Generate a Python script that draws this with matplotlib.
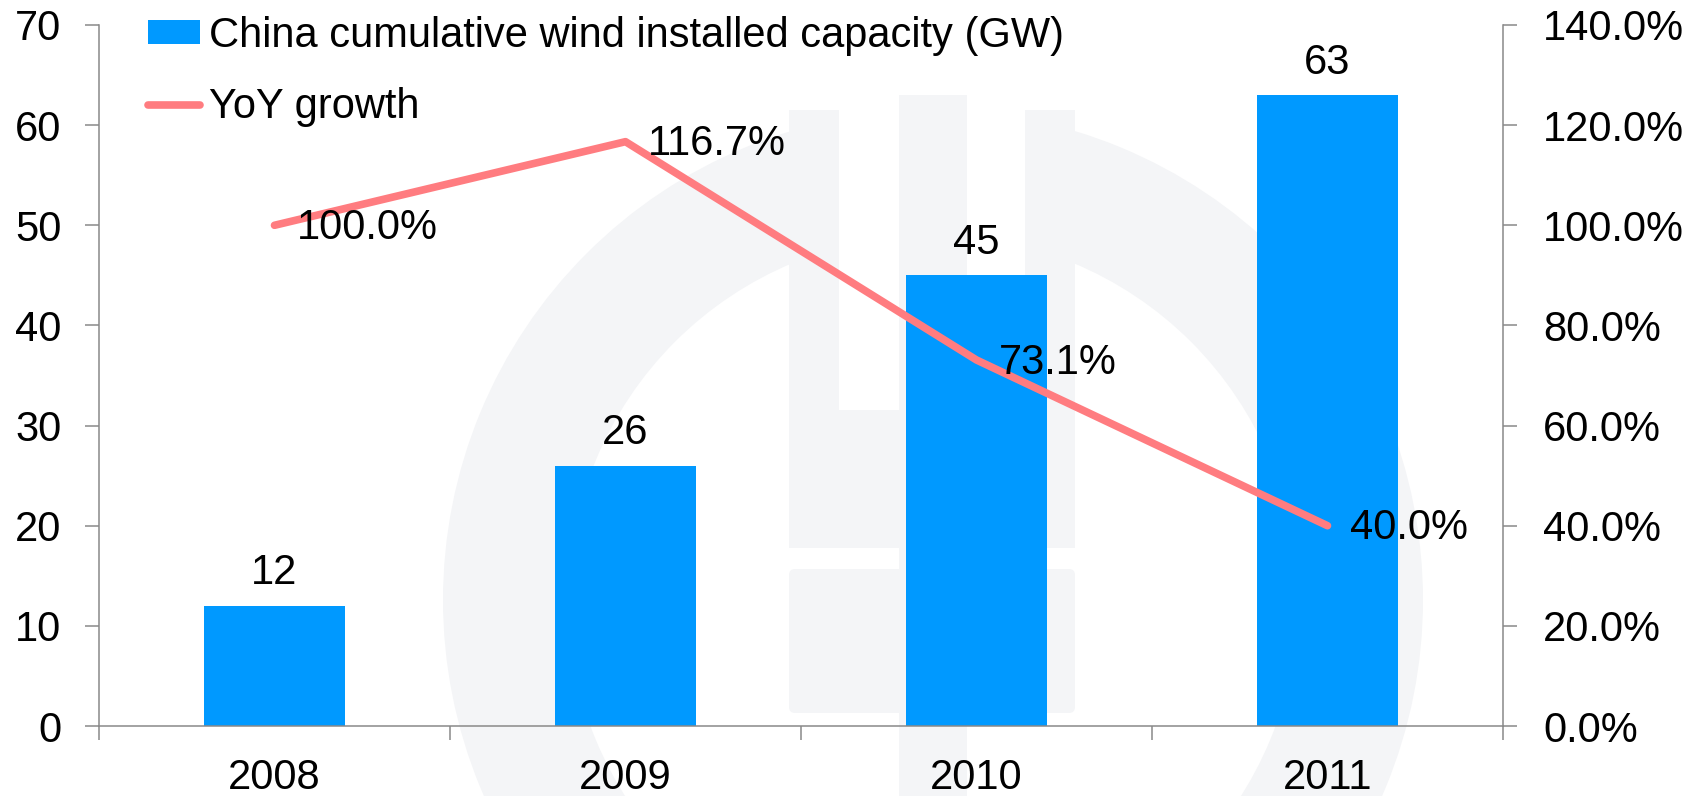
import numpy as np
import matplotlib
matplotlib.use('Agg')
import matplotlib.pyplot as plt
from matplotlib.patches import Wedge, Rectangle, FancyBboxPatch
from matplotlib.ticker import FuncFormatter, FixedLocator

years = ['2008', '2009', '2010', '2011']
capacity_gw = [12, 26, 45, 63]
yoy_growth = [100.0, 116.7, 73.1, 40.0]

bar_label = 'China cumulative wind installed capacity (GW)'
line_label = 'YoY growth'

plt.rcParams['font.family'] = ['Liberation Sans', 'DejaVu Sans']
plt.rcParams['font.size'] = 30

axis_grey = '#898989'
bar_blue = '#0099FF'
line_pink = '#FF7C80'
mark_grey = '#f4f5f7'

fig = plt.figure(figsize=(16.9, 7.96), dpi=100)

# faint logo watermark behind the chart (pixel coords, y down)
bg = fig.add_axes([0, 0, 1, 1], zorder=-1)
bg.set_xlim(0, 1690)
bg.set_ylim(796, 0)
bg.axis('off')
bg.add_patch(Wedge((933, 600), 490, 0, 360, width=125, color=mark_grey, lw=0))
bg.add_patch(Rectangle((839, 90), 60, 320, color='white', lw=0))
bg.add_patch(Rectangle((967, 90), 58, 320, color='white', lw=0))
bg.add_patch(Rectangle((789, 110), 50, 438, color=mark_grey, lw=0))
bg.add_patch(Rectangle((789, 410), 120, 138, color=mark_grey, lw=0))
bg.add_patch(Rectangle((1025, 110), 50, 438, color=mark_grey, lw=0))
bg.add_patch(Rectangle((957, 410), 118, 138, color=mark_grey, lw=0))
bg.add_patch(Rectangle((899, 95), 68, 701, color=mark_grey, lw=0))
bg.add_patch(FancyBboxPatch((795, 575), 274, 132, boxstyle='round,pad=6',
                            color=mark_grey, lw=0))

ax = fig.add_axes([99 / 1690, 1 - 726 / 796, 1404 / 1690, 701 / 796])
ax.set_facecolor('none')
x = np.arange(len(years))

bars = ax.bar(x, capacity_gw, width=0.4, color=bar_blue, zorder=2)
for xi, v in zip(x, capacity_gw):
    ax.annotate(f'{v}', (xi, v), xytext=(0, 9), textcoords='offset points',
                ha='center', va='bottom')

ax.set_xlim(-0.5, len(years) - 0.5)
ax.set_ylim(0, 70)
ax.set_yticks(range(0, 71, 10))
ax.set_xticks(x)
ax.set_xticklabels(years)
ax.xaxis.set_minor_locator(FixedLocator(np.arange(-0.5, len(years), 1.0)))
ax.tick_params(axis='x', which='major', length=0, pad=23)
ax.tick_params(axis='x', which='minor', length=10, width=1.1, color=axis_grey,
               direction='out')
ax.tick_params(axis='y', length=10, width=1.1, color=axis_grey, pad=17)

for side in ['top', 'right']:
    ax.spines[side].set_visible(False)
for side in ['left', 'bottom']:
    ax.spines[side].set_color(axis_grey)
    ax.spines[side].set_linewidth(1.1)

ax2 = ax.twinx()
line, = ax2.plot(x, yoy_growth, color=line_pink, lw=5.5,
                 solid_capstyle='round', solid_joinstyle='round', zorder=3)
for xi, v in zip(x, yoy_growth):
    ax2.annotate(f'{v:.1f}%', (xi, v), xytext=(16, -2), textcoords='offset points',
                 ha='left', va='center')
ax2.set_ylim(0, 140)
ax2.set_yticks(range(0, 141, 20))
ax2.yaxis.set_major_formatter(FuncFormatter(lambda v, p: f'{v:.1f}%'))
ax2.tick_params(axis='y', length=10, width=1.1, color=axis_grey, pad=19)
for side in ['top', 'left', 'bottom']:
    ax2.spines[side].set_visible(False)
ax2.spines['right'].set_color(axis_grey)
ax2.spines['right'].set_linewidth(1.1)

fig.legend([bars, line], [bar_label, line_label], loc='upper left',
           bbox_to_anchor=(148 / 1690, 1 - 16 / 796), frameon=False,
           borderpad=0, borderaxespad=0, handlelength=1.25, handleheight=0.5,
           handletextpad=0.22, labelspacing=0.74)

fig.savefig('out.png', dpi=100)
